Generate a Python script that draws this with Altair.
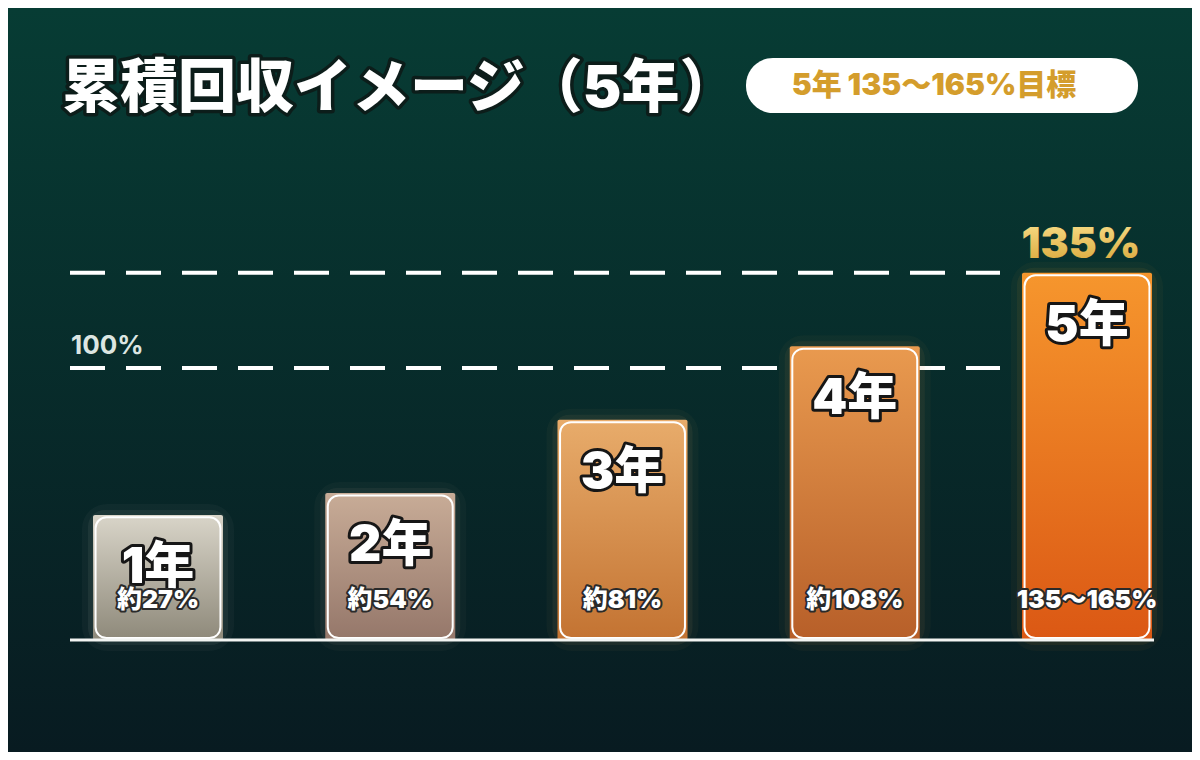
import altair as alt
import pandas as pd

# ---------------- data ----------------
years = ["1年", "2年", "3年", "4年", "5年"]
pct_labels = ["約27%", "約54%", "約81%", "約108%", "135〜165%"]
bar_tops = [46, 54, 81, 108, 135]          # bar heights as drawn (%)
ref_values = [100, 135]                     # dashed reference lines (%)
ref_labels = ["100%", ""]
title_text = "累積回収イメージ（5年）"
badge_text = "5年 135〜165%目標"
peak_label = "135%"

# ---------------- styles ----------------
top_colors = ["#d9d5c9", "#c8ac97", "#e8ac6b", "#e99a4f", "#f6962d"]
bottom_colors = ["#8e897a", "#95776a", "#c37332", "#b75f29", "#db5814"]
FONT = "Inter, 'Noto Sans CJK JP', sans-serif"
W, H = 1184, 744

df = pd.DataFrame({
    "idx": list(range(1, len(years) + 1)),
    "year": years,
    "label": pct_labels,
    "top": bar_tops,
})
ref_df = pd.DataFrame({"v": ref_values, "t": ref_labels})
peak_df = pd.DataFrame({"idx": [5], "v": [bar_tops[-1]], "t": [peak_label]})
zero_df = pd.DataFrame({"v": [0]})
one = pd.DataFrame({"a": [0]})

xs = alt.Scale(domain=[0.35414, 5.45209], nice=False, zero=False)
ys = alt.Scale(domain=[-41.176, 232.353], nice=False, zero=False)


def vgrad(c0, c1):
    return alt.LinearGradient(
        gradient="linear",
        stops=[alt.GradientStop(color=c0, offset=0), alt.GradientStop(color=c1, offset=1)],
        x1=0, x2=0, y1=0, y2=1,
    )


layers = []

# background
layers.append(
    alt.Chart(one).mark_rect(fill=vgrad("#073c34", "#081b21")).encode(
        x=alt.value(0), x2=alt.value(W), y=alt.value(0), y2=alt.value(H)
    )
)

base = alt.Chart(df).transform_calculate(
    x0="datum.idx - 0.2799", x1="datum.idx + 0.2799",
    xi0="datum.idx - 0.2689", xi1="datum.idx + 0.2689",
    ti="datum.top - 0.9", bi="0.7", zero="0",
)

# dashed reference lines (behind bars)
layers.append(
    alt.Chart(ref_df).mark_rule(strokeDash=[35, 21], strokeWidth=4, color="#ffffff").encode(
        y=alt.Y("v:Q", scale=ys, axis=None), x=alt.value(62), x2=alt.value(992)
    )
)
layers.append(
    alt.Chart(ref_df).transform_filter("datum.t != ''").mark_text(
        font=FONT, fontSize=26, fontWeight="bold", color="#dce6e2", align="left",
        baseline="middle", dy=-22
    ).encode(y=alt.Y("v:Q", scale=ys, axis=None), x=alt.value(63), text="t:N")
)

# glow + bars
for i in range(len(years)):
    sub = base.transform_filter(f"datum.idx == {i + 1}")
    enc = dict(
        x=alt.X("x0:Q", scale=xs, axis=None), x2="x1:Q",
        y=alt.Y("top:Q", scale=ys, axis=None), y2="zero:Q",
    )
    layers.append(sub.mark_rect(fillOpacity=0, stroke=top_colors[i], strokeWidth=22,
                                strokeOpacity=0.04, cornerRadius=14).encode(**enc))
    layers.append(sub.mark_rect(fillOpacity=0, stroke=top_colors[i], strokeWidth=10,
                                strokeOpacity=0.07, cornerRadius=12).encode(**enc))
    layers.append(sub.mark_rect(fill=vgrad(top_colors[i], bottom_colors[i]),
                                cornerRadius=2).encode(**enc))

# white rounded outlines
layers.append(
    base.mark_rect(fillOpacity=0, stroke="#ffffff", strokeWidth=2, cornerRadius=11).encode(
        x=alt.X("xi0:Q", scale=xs, axis=None), x2="xi1:Q",
        y=alt.Y("ti:Q", scale=ys, axis=None), y2="bi:Q",
    )
)

# baseline
layers.append(
    alt.Chart(zero_df).mark_rule(color="#f2f4f2", strokeWidth=3).encode(
        y=alt.Y("v:Q", scale=ys, axis=None), x=alt.value(62), x2=alt.value(1146)
    )
)


def outlined(chart_fn, size, sw, dark="#161616"):
    back = chart_fn(dict(font=FONT, fontSize=size, fontWeight=900, fill=dark, stroke=dark,
                         strokeWidth=sw, strokeJoin="round"))
    front = chart_fn(dict(font=FONT, fontSize=size, fontWeight=900, fill="#ffffff"))
    return [back, front]


# year labels
layers += outlined(
    lambda p: base.mark_text(baseline="middle", dy=53, **p).encode(
        x=alt.X("idx:Q", scale=xs, axis=None), y=alt.Y("top:Q", scale=ys, axis=None), text="year:N"
    ), 50, 6)

# percentage labels
layers += outlined(
    lambda p: base.mark_text(baseline="middle", dy=-40, **p).encode(
        x=alt.X("idx:Q", scale=xs, axis=None), y=alt.Y("zero:Q", scale=ys, axis=None), text="label:N"
    ), 25, 4, "#2a2a2a")

# peak label (gold gradient)
layers.append(
    alt.Chart(peak_df).mark_text(font=FONT, fontSize=42, fontWeight=900, baseline="middle", dy=-28,
                                 dx=-6, fill=vgrad("#fae28e", "#d8a436")).encode(
        x=alt.X("idx:Q", scale=xs, axis=None), y=alt.Y("v:Q", scale=ys, axis=None), text="t:N"
    )
)

# title
layers += outlined(
    lambda p: alt.Chart(pd.DataFrame({"t": [title_text]})).mark_text(
        align="left", baseline="middle", **p).encode(
        x=alt.value(54), y=alt.value(82), text="t:N"
    ), 58, 7, "#0c1d1a")

# badge
layers.append(
    alt.Chart(one).mark_rect(fill="#ffffff", cornerRadius=27).encode(
        x=alt.value(738), x2=alt.value(1130), y=alt.value(50), y2=alt.value(105)
    )
)
layers.append(
    alt.Chart(pd.DataFrame({"t": [badge_text]})).mark_text(
        font=FONT, fontSize=30, fontWeight=900, color="#d49d2c", align="center", baseline="middle"
    ).encode(x=alt.value(926), y=alt.value(78), text="t:N")
)

chart = alt.layer(*layers).properties(
    width=W, height=H, padding=0, background="#0a2a27",
    autosize=alt.AutoSizeParams(type="none"),
).configure_view(stroke=None)

chart.save("out.html", embed_options={"renderer": "svg", "actions": False})
